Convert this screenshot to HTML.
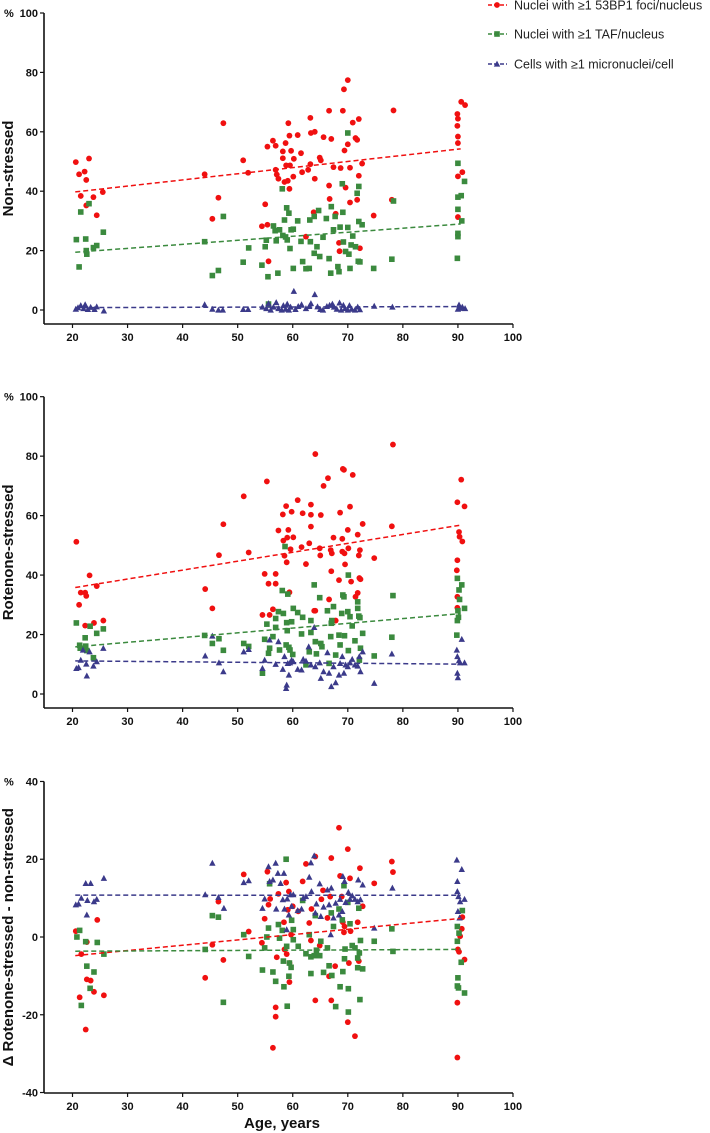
<!DOCTYPE html>
<html><head><meta charset="utf-8">
<style>
html,body{margin:0;padding:0;background:#fff;}
svg{display:block;font-family:"Liberation Sans",Arial,sans-serif;}
.tk{font-size:11px;font-weight:bold;fill:#111;}
.tt{font-size:15px;font-weight:bold;fill:#111;}
.lg{font-size:12.5px;fill:#222;}
</style></head>
<body>
<svg id="chart" width="710" height="1133" viewBox="0 0 710 1133"></svg>
<script>
// ---------- DATA ----------
const xTicks = [20,30,40,50,60,70,80,90,100];
const yTicksA = [0,20,40,60,80,100];
const yTicksC = [-40,-20,0,20,40];
const seriesNames = ["Nuclei with \u22651 53BP1 foci/nucleus","Nuclei with \u22651 TAF/nucleus","Cells with \u22651 micronuclei/cell"];
const panelTitles = ["Non-stressed","Rotenone-stressed","\u0394 Rotenone-stressed - non-stressed"];

const p1Red = [[20.6,49.8],[21.2,45.7],[21.5,38.4],[22.2,46.6],[22.5,43.8],[22.5,35.2],[23,51],[23.8,38],[24.4,31.9],[25.5,39.7],[44,45.7],[45.4,30.7],[46.5,37.8],[47.4,62.9],[51,50.4],[51.9,46.2],[55,35.6],[55.4,55],[55.6,16.4],[54.4,28.2],[55.4,28.7],[56.4,57],[56.9,55.3],[56.9,47.2],[57.1,45.6],[57.4,44.2],[58.2,51.1],[58.2,53.4],[58.5,43.1],[58.7,56.2],[58.8,48.7],[59.1,43.5],[59.2,62.9],[59.4,58.7],[59.4,40.8],[59.5,48.7],[59.7,53.6],[60.1,44.9],[60.2,50.9],[60.9,58.9],[61.5,52.8],[61.7,46.4],[62.4,24.7],[62.8,47.2],[63.2,49.1],[63.2,64.7],[63.3,59.6],[64,60],[64,44.2],[63.8,32.9],[64.9,51.3],[65.1,50.4],[65.6,58.2],[66.6,67.1],[66.6,41.9],[66.7,37.4],[67,57.6],[67.4,48.1],[67.8,32.4],[68.4,22.6],[68.5,19.8],[68.7,47.8],[69.1,67.1],[69.3,74.3],[69.4,53.7],[69.6,41.2],[70,77.4],[70,55.8],[70.4,47.9],[70.4,36.2],[70.9,63.1],[71.4,57.9],[71.7,57.3],[71.7,37.1],[72,45.2],[72,64.3],[72.2,20.8],[72.6,49.3],[74.7,31.8],[78,37.1],[78.3,67.2],[89.9,66],[89.9,62],[90,64.4],[90,58.4],[90,56.2],[90,45],[90,31.3],[90.6,70.1],[90.8,46.4],[91.3,69]];
const p1Green = [[20.7,23.7],[21.2,14.5],[21.5,33],[22.4,23.9],[22.5,20],[22.6,18.8],[23,35.8],[23.8,21],[24.4,21.7],[25.6,26.2],[44,23],[45.4,11.6],[46.5,13.3],[47.4,31.5],[51,16.1],[52,20.9],[54.4,15.1],[55,21.3],[55.2,23.5],[55.5,11.2],[55.6,2],[56.5,28.3],[56.8,26.7],[57,23.3],[57.3,12.4],[57.6,27],[58.1,40.8],[58.2,25.1],[58.5,30.3],[58.7,24.6],[58.9,34.4],[59,23.6],[59.3,32.6],[59.5,20.7],[59.7,27],[60.1,14],[60.1,27.2],[60.9,30],[61.5,23.1],[61.8,16.3],[62.4,13.9],[63,14],[63.1,30.3],[63.2,23],[63.9,31.5],[63.9,19.1],[64.4,21.3],[64.7,33.5],[64.9,18],[65.5,24.5],[66.1,30.8],[66.6,17.3],[66.9,12.4],[67,34.8],[67.4,27],[67.7,31.5],[68.2,14.6],[68.4,12.9],[68.6,27.9],[69,42.5],[69.1,32.9],[69.2,22.9],[69.6,19.7],[70,59.6],[70,27.8],[70.2,18.8],[70.4,14],[70.6,21.9],[70.9,24.9],[71.4,21.3],[71.7,39.3],[71.9,16.4],[72,41.6],[72,29.8],[72.2,16.2],[72.6,28.7],[74.7,14],[78,17.1],[78.3,36.7],[89.9,17.4],[90,24.7],[90,25.8],[90,38],[90,33.9],[90,49.4],[90.6,38.5],[90.7,30],[91.2,43.3]];
const p1Blue = [[20.6,0.3],[21,0.8],[21.5,1.5],[22,0.5],[22.3,1.8],[22.8,0.2],[23.3,0.9],[24,0.2],[24.4,1.1],[25.7,-0.3],[44,1.8],[45.4,0.3],[46.5,0],[47.3,0],[51,0.2],[51.9,0.2],[54.5,1],[55.2,0.5],[55.6,2.2],[56,0],[56.5,1],[57,2.5],[57.4,0.5],[58,0],[58.3,1.5],[58.7,0.3],[59,2],[59.3,0],[59.6,1],[60.2,6.3],[60.5,0.2],[61,1.2],[61.6,1.8],[62.4,0.5],[63,1.2],[63.3,2.2],[64,5.2],[64.5,1.1],[65,0.2],[65.5,0],[66.2,1.2],[66.7,1.6],[67.2,2],[67.5,1],[68,0.3],[68.5,2.4],[68.8,0],[69.2,1.6],[69.5,0.5],[70,0],[70.3,1.5],[70.7,0.3],[71.3,0],[71.8,1],[72.2,0.1],[74.8,1.3],[78.1,1],[90,0.3],[90.2,1.7],[90.4,0.6],[90.8,1],[91.3,0.5]];

const p2Red = [[20.7,51.2],[21.2,30],[21.5,34.1],[22.3,34.1],[22.5,33],[22.3,23],[23.1,39.9],[23.9,23.9],[24.4,36.3],[25.6,24.7],[44.1,35.3],[45.4,28.8],[46.6,46.7],[47.4,57.1],[51.1,66.5],[52,47.6],[54.5,26.6],[54.9,40.4],[55.3,71.5],[55.6,37.1],[55.8,26.6],[56.4,28.5],[56.9,40.4],[56.9,37.1],[57.4,55],[58.2,60.4],[58.3,51.6],[58.5,46.5],[58.8,63.2],[58.9,44.3],[59,52.6],[59.2,55.2],[59.4,34.2],[59.6,48.7],[59.8,61.3],[60.1,52.7],[60.9,65.2],[61.6,49.4],[61.8,60.8],[62.4,43.7],[63,50.7],[63.3,63.7],[63.3,60.3],[63.3,56.3],[63.9,28],[64.1,80.7],[64.1,28],[64.9,49],[65,46.6],[65.1,60.2],[65.6,70],[66.4,72.6],[66.6,31.8],[66.9,48.4],[67,41.3],[67.1,47.3],[67.4,52.6],[67.8,24.7],[68.4,38.3],[68.6,61],[69,47.9],[69,52.2],[69.1,75.7],[69.3,75.4],[69.4,47.3],[69.5,43.6],[70,55.2],[70.1,49],[70.4,63],[70.6,37.8],[70.9,73.7],[71.4,32.7],[71.8,53.6],[71.8,34],[72,46.6],[72.1,39],[72.2,48.4],[72.3,38.6],[72.7,57.2],[74.8,45.7],[78,56.4],[78.2,83.9],[89.8,41.6],[89.9,45],[89.9,32.7],[89.9,29],[89.9,64.5],[90.2,54.5],[90.3,52.9],[90.6,72.1],[90.8,51.3],[91.2,63.1]];
const p2Green = [[20.7,23.9],[21.3,16.4],[21.4,15.4],[22.3,18.9],[22.4,16.1],[22.6,14.6],[23.2,22.8],[23.8,12.2],[24.4,20.4],[25.6,21.9],[44,19.7],[45.4,17],[46.6,18.6],[47.4,14.7],[51.1,17],[52,16],[54.5,7],[54.9,18.4],[55.3,23.5],[55.6,13.7],[55.8,15.4],[56.4,19.3],[56.9,22.4],[56.9,25.4],[57.4,27.7],[57.6,14.8],[58.1,34.8],[58.3,27.1],[58.6,49.6],[58.8,16.5],[58.9,24],[59,21.3],[59.1,33.6],[59.3,15.7],[59.5,14.8],[59.8,24.3],[60,13.3],[60.1,28.8],[60.9,27.4],[61.6,20.2],[61.8,25.8],[62.4,9.8],[63,14.2],[63.3,24.7],[63.3,20.7],[63.9,36.7],[64.1,17.6],[64.3,13.5],[64.9,32.4],[65.1,17],[65.3,15.9],[66.3,28],[66.6,10.3],[66.9,19.3],[67,23.8],[67.1,24.7],[67.4,29.4],[67.8,13.1],[68.4,19.8],[68.6,16.5],[68.9,27.1],[69.1,33.3],[69.3,32.7],[69.4,19.6],[70,27.7],[70.1,40],[70.1,14.6],[70.4,26],[70.8,22.9],[71.3,17.9],[71.8,31],[71.8,28.8],[72,26.2],[72.1,11.4],[72.2,25.7],[72.3,15.4],[72.7,20.4],[74.8,12.8],[78,19.1],[78.2,33.1],[89.8,19.8],[89.9,24.7],[89.9,38.9],[90,28],[90.1,25.8],[90.2,35],[90.3,31.8],[90.7,36.7],[91.2,28.8]];
const p2Blue = [[20.7,8.6],[21.1,8.9],[21.5,11.4],[21.9,14.8],[22.5,10.1],[22.6,6.1],[23.1,14.2],[23.8,9.4],[24.4,10.9],[25.6,15.4],[44.1,12.8],[45.4,19.5],[46.6,10.5],[47.4,7.5],[51.1,14.2],[52,15],[54.5,8.6],[54.9,11.4],[55.8,18.2],[56.9,10],[57.4,17.6],[58.2,8.3],[58.5,12.6],[58.8,1.9],[58.9,3],[59.1,10.3],[59.3,6.4],[59.5,10.5],[59.8,11.4],[60.1,10.9],[60.9,8.3],[61.6,8.1],[61.9,11.7],[62.4,11.1],[62.9,15.9],[63.3,9.8],[63.9,22.4],[64.1,9.2],[64.9,10.5],[65.1,5.3],[65.6,7.5],[66.3,13.9],[66.6,7],[67,2.5],[67.4,9.2],[67.8,3.8],[68.4,6.4],[68.6,10.3],[69,12.6],[69.3,7],[69.6,9.8],[70,9.2],[70.4,10.5],[70.8,11.7],[71.3,9.8],[71.8,9.4],[72.1,12.6],[72.3,7.5],[72.7,14.2],[74.8,3.6],[78,13.5],[89.8,14.8],[89.9,7],[89.9,12.6],[90,5.5],[90.2,11.2],[90.4,10.5],[90.7,18.4],[91.2,10.5]];

const p3Red = [[20.6,1.5],[21.3,-15.5],[21.6,-4.4],[22.4,-23.8],[22.6,-1.3],[22.6,-10.9],[23.3,-11.2],[23.9,-14.1],[24.5,4.4],[25.7,-15],[44.1,-10.5],[45.4,-2],[46.5,9.1],[47.4,-5.9],[51.1,16.1],[52,1.4],[54.4,-1.5],[54.9,4.7],[55.4,16.8],[55.6,8.3],[55.9,9.8],[56.4,-28.5],[56.9,-20.5],[56.9,-18.1],[57.1,-5.2],[57.4,11.1],[58.4,3.8],[58.5,-3.2],[58.8,14],[58.9,-4.4],[59.1,7],[59.3,11.7],[59.4,-11.6],[59.4,-6.7],[59.7,0.6],[60,7.9],[61,6.6],[61.8,14.3],[62.4,18.8],[63,3.6],[63.3,-0.9],[63.4,7.2],[64.1,-16.3],[64.1,20.7],[64.9,-2.2],[65.2,9.7],[65.5,12],[66.3,4.9],[66.6,-10.1],[66.8,10.4],[67,-16.3],[67,20.3],[67.7,-7.5],[68.4,28.1],[68.6,15.7],[68.9,10.4],[69.1,3.8],[69.3,1.2],[69.4,2.7],[70,22.6],[70,-21.9],[70.2,-6.7],[70.4,15.1],[70.5,1.5],[71.3,-25.5],[71.8,3.8],[72,-6.2],[72.2,17.7],[72.7,7.9],[74.8,13.8],[78,19.4],[78.2,16.7],[89.9,-16.9],[89.9,-31],[90,-3.2],[90.2,-3.8],[90.4,0.2],[90.7,2.1],[90.8,5.1],[91.2,-5.8]];
const p3Green = [[20.8,0],[21.3,1.7],[21.6,-17.6],[22.4,-1.2],[22.6,-7.5],[23.2,-13.2],[23.9,-9],[24.5,-1.4],[25.7,-4.4],[44.1,-3.2],[45.4,5.5],[46.5,5.1],[47.4,-16.8],[51.1,0.6],[52,-5],[54.5,-8.5],[54.9,-2.8],[55.3,0],[55.6,2.3],[55.8,13.7],[56.4,-9],[56.9,-11.4],[57.4,3.2],[57.6,-0.3],[58.1,1.7],[58.3,-6.2],[58.4,-12.8],[58.8,20],[58.9,-2.4],[59,-17.8],[59.3,-10.1],[59.4,-6.7],[59.7,-7.8],[59.8,4.3],[60.1,1.9],[60.1,-0.7],[61,-2.4],[61.8,9.4],[62.4,-4.3],[63,0.6],[63.3,-9.4],[63.3,-5.1],[63.9,-4.8],[64.1,5.5],[64.3,-3.4],[64.9,-4.8],[65.1,-1.1],[65.6,-9.1],[66.3,-2.8],[66.6,-7.4],[67,6.2],[67.1,-9.9],[67.4,2.7],[67.8,-17.9],[68.4,7.2],[68.6,-12.8],[69,4.4],[69.1,-8.9],[69.3,13.2],[69.4,-5.6],[69.5,-3.1],[70,8.9],[70.1,-13.3],[70.1,-19.3],[70.4,3.4],[70.8,-2.2],[71.3,-2.8],[71.8,-5.4],[71.8,-7.9],[72,7.4],[72.1,-4.1],[72.2,-16.1],[72.3,-0.9],[72.7,-8.2],[74.8,-1.1],[78,2.1],[78.2,-3.7],[89.9,-1.1],[89.9,-12.6],[89.9,2.7],[90,-10.5],[90.1,-13.1],[90.2,1],[90.6,-6.5],[90.8,6.8],[91.2,-14.4]];
const p3Blue = [[20.6,8.3],[21.1,8.5],[21.6,10],[22.4,13.8],[22.6,5.7],[22.7,9.4],[23.3,13.8],[23.9,9.1],[24.4,9.7],[25.7,15.1],[44.1,10.9],[45.4,19],[46.5,10.2],[47.5,7.4],[51.1,14],[52,14.5],[54.5,7.4],[54.9,9.8],[55.6,18.1],[55.8,14.3],[56.4,14.7],[56.9,19],[57,7.2],[57.3,16.4],[57.8,13.8],[58.2,9.6],[58.4,16.4],[58.5,7.2],[58.9,1.9],[59,9.8],[59.3,5.7],[59.6,10.9],[59.8,7.9],[60.1,10.9],[60.9,6.8],[61.6,7.2],[61.9,10],[62.4,10.4],[63,15.4],[63.3,19.1],[63.4,11.7],[63.9,20.9],[64.1,6.2],[64.3,8.5],[64.9,13.7],[65.1,5.3],[65.6,7.7],[66.3,12.1],[66.6,8.3],[66.9,0.6],[67,12.6],[67.4,4.9],[67.8,8.7],[68.4,5.7],[68.6,9.7],[69,6.6],[69.1,15.6],[69.4,14.3],[69.6,8.9],[70.1,11.5],[70.4,9.7],[70.8,10.6],[71.3,9.7],[71.8,9.1],[71.9,14.7],[72.3,9.6],[72.7,13.4],[74.8,2.3],[78.1,12.6],[89.8,19.8],[89.9,14.3],[89.9,11.7],[90,6.6],[90.1,10.4],[90.3,4.9],[90.4,9.1],[90.7,17.4],[91.2,9.7]];

// ---------- DRAW ----------
const NS = "http://www.w3.org/2000/svg";
const svg = document.getElementById("chart");
const COLORS = ["#f01010","#3b8a3e","#3b3a8a"];
function mk(tag, attrs, parent){
  const e = document.createElementNS(NS, tag);
  for (const k in attrs) e.setAttribute(k, attrs[k]);
  (parent||svg).appendChild(e);
  return e;
}
const X0 = 72.5, XS = 5.506;
function xScale(v){ return X0 + (v-20)*XS; }

function marker(kind, cx, cy, g){
  let e;
  if (kind===0) e = mk("circle",{cx:cx,cy:cy,r:2.9,fill:COLORS[0]},g);
  else if (kind===1) e = mk("rect",{x:cx-2.8,y:cy-2.8,width:5.6,height:5.6,fill:COLORS[1]},g);
  else e = mk("polygon",{points:(cx)+","+(cy-3.4)+" "+(cx+3.2)+","+(cy+2.6)+" "+(cx-3.2)+","+(cy+2.6),fill:COLORS[2]},g);
  return e;
}
function fit(pts){
  const n=pts.length; let sx=0,sy=0,sxx=0,sxy=0;
  pts.forEach(p=>{sx+=p[0];sy+=p[1];sxx+=p[0]*p[0];sxy+=p[0]*p[1];});
  const b=(n*sxy-sx*sy)/(n*sxx-sx*sx); const a=(sy-b*sx)/n;
  return [a,b];
}

function panel(idx, yZero, pxPerUnit, yMin, yMax, yTicks, axisY, series){
  const yScale = v => yZero - v*pxPerUnit;
  const g = mk("g",{});
  
  
  const axL = 44, axR = xScale(100), top = yScale(yMax);
  const ya = mk("line",{x1:axL,y1:top,x2:axL,y2:axisY,stroke:"#111","stroke-width":1.6},g);
  
  
  const xa = mk("line",{x1:axL,y1:axisY,x2:axR,y2:axisY,stroke:"#111","stroke-width":1.6},g);
  
  
  yTicks.forEach(t=>{
    const y=yScale(t);
    mk("line",{x1:axL-4,y1:y,x2:axL,y2:y,stroke:"#111","stroke-width":1.2},g);
    const tx = mk("text",{x:axL-6,y:y+4,"text-anchor":"end",class:"tk"},g);
    tx.textContent = t;
    
    
  });
  xTicks.forEach(t=>{
    const x=xScale(t);
    mk("line",{x1:x,y1:axisY,x2:x,y2:axisY+4,stroke:"#111","stroke-width":1.2},g);
    const tx = mk("text",{x:x,y:axisY+17,"text-anchor":"middle",class:"tk"},g);
    tx.textContent = t;
    
    
  });
  const pc = mk("text",{x:4,y:top+4,class:"tk"},g);
  pc.textContent = "%";
  
  
  const cy = (top+axisY)/2;
  const yt = mk("text",{x:0,y:0,"text-anchor":"middle",class:"tt",transform:"translate(13,"+cy+") rotate(-90)"},g);
  yt.textContent = panelTitles[idx];
  
  
  series.forEach((pts,k)=>{
    const sg = mk("g",{},g);
    
    
    pts.forEach(p=>{
      const m = marker(k, xScale(p[0]), yScale(p[1]), sg);
      
      
    });
  });
  series.forEach((pts,k)=>{
    const f = fit(pts);
    const xa0 = 20.5, xa1 = 90.5;
    const l = mk("line",{x1:xScale(xa0),y1:yScale(f[0]+f[1]*xa0),x2:xScale(xa1),y2:yScale(f[0]+f[1]*xa1),stroke:COLORS[k],"stroke-width":1.5,"stroke-dasharray":"5,3"},g);
    
    
  });
}

panel(0, 310, 2.97, 0, 100, yTicksA, 324, [p1Red,p1Green,p1Blue]);
panel(1, 694, 2.973, 0, 100, yTicksA, 708, [p2Red,p2Green,p2Blue]);
panel(2, 937, 3.888, -40, 40, yTicksC, 1093, [p3Red,p3Green,p3Blue]);

const xt = mk("text",{x:282,y:1128,"text-anchor":"middle",class:"tt"});
xt.textContent = "Age, years";



const lg = mk("g",{});


[5,34,64].forEach((y,k)=>{
  const eg = mk("g",{},lg);
  
  
  mk("line",{x1:488,y1:y,x2:507,y2:y,stroke:COLORS[k],"stroke-width":1.5,"stroke-dasharray":"4,2"},eg);
  marker(k,497,y,eg);
  const t = mk("text",{x:514,y:y+4.5,class:"lg"},eg);
  t.textContent = seriesNames[k];
});
</script>
</body></html>
